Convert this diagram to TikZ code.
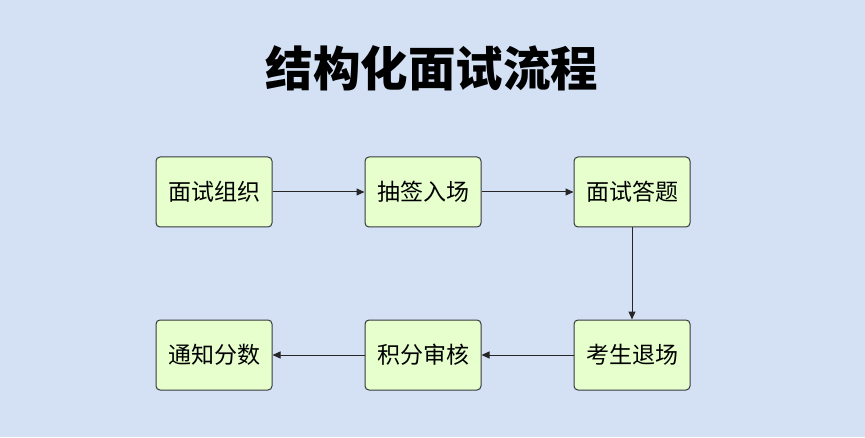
\documentclass[tikz,border=0pt]{standalone}
\usepackage{fontspec}
\newfontfamily\cjk{Noto Sans CJK SC}
\usetikzlibrary{arrows.meta}
\definecolor{bgc}{HTML}{D4E1F5}
\definecolor{boxfill}{HTML}{E6FFCC}
\definecolor{boxline}{HTML}{36393D}
\tikzset{
  stepbox/.style={draw=boxline, line width=1pt, fill=boxfill, rounded corners=4pt,
    minimum width=116pt, minimum height=70pt, inner sep=0pt,
    font=\cjk\fontsize{23}{27}\selectfont},
  conn/.style={draw=black!85, line width=1pt, -{Triangle[length=8pt,width=7pt]}}
}
\begin{document}
\begin{tikzpicture}[x=1pt,y=1pt]
\fill[bgc] (0,0) rectangle (865,437);
\useasboundingbox (0,0) rectangle (865,437);
\node (title) at (432,369) {\cjk\bfseries\fontsize{47.5}{52}\selectfont 结构化面试流程};
\node[stepbox] (a) at (214,245) {面试组织};
\node[stepbox] (b) at (423,245) {抽签入场};
\node[stepbox] (c) at (632,245) {面试答题};
\node[stepbox] (d) at (632,82) {考生退场};
\node[stepbox] (e) at (423,82) {积分审核};
\node[stepbox] (f) at (214,82) {通知分数};
\draw[conn] (a) -- (b);
\draw[conn] (b) -- (c);
\draw[conn] (c) -- (d);
\draw[conn] (d) -- (e);
\draw[conn] (e) -- (f);
\end{tikzpicture}
\end{document}
